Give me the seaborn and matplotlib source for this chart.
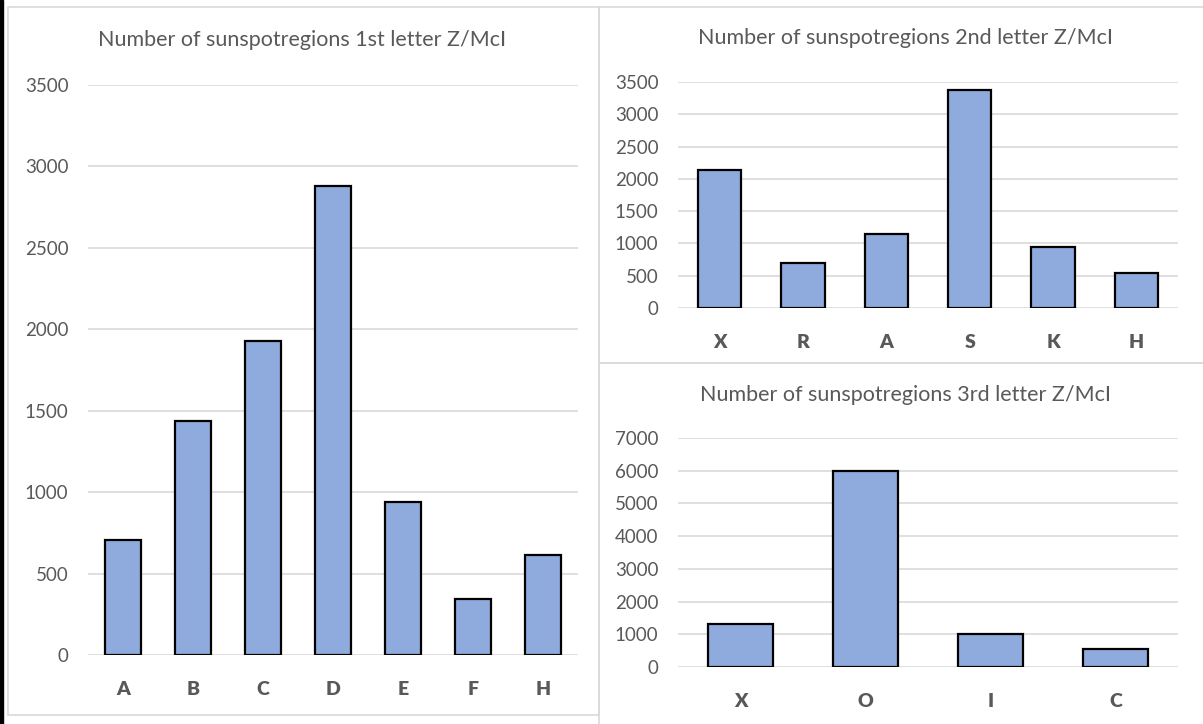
import numpy as np
import seaborn as sns
import matplotlib.pyplot as plt
from matplotlib.patches import Rectangle

# data
first_letters = ['A', 'B', 'C', 'D', 'E', 'F', 'H']
first_counts = [705, 1435, 1930, 2880, 940, 342, 617]

second_letters = ['X', 'R', 'A', 'S', 'K', 'H']
second_counts = [2135, 695, 1140, 3375, 940, 545]

third_letters = ['X', 'O', 'I', 'C']
third_counts = [1310, 5985, 1005, 540]

BAR = '#8faadc'
GRID = '#d9d9d9'
TXT = '#595959'
W, H = 1203, 724

sns.set_theme(style='white')
plt.rcParams['font.family'] = ['Lato', 'DejaVu Sans']

fig = plt.figure(figsize=(W / 100, H / 100), dpi=100)


def px_axes(x0, x1, ytop, ybot):
    return fig.add_axes([x0 / W, (H - ybot) / H, (x1 - x0) / W, (ybot - ytop) / H])


def panel(x0, y0, x1, y1):
    fig.patches.append(Rectangle((x0 / W, (H - y1) / H), (x1 - x0) / W, (y1 - y0) / H,
                                 transform=fig.transFigure, fill=False,
                                 edgecolor=GRID, linewidth=1.2, zorder=0))


def bar_chart(ax, cats, vals, ymax, step, title, tx, ty):
    sns.barplot(x=cats, y=vals, color=BAR, saturation=1, edgecolor='black',
                linewidth=1.6, width=0.52, ax=ax, zorder=3)
    ax.set_ylim(0, ymax)
    ax.set_xlim(-0.5, len(cats) - 0.5)
    ax.set_yticks(np.arange(0, ymax + 1, step))
    ax.grid(axis='y', color=GRID, linewidth=1.2, zorder=0)
    ax.set_axisbelow(True)
    sns.despine(ax=ax, left=True, bottom=True)
    ax.tick_params(axis='y', length=0, pad=14, labelsize=13.5, labelcolor=TXT)
    ax.tick_params(axis='x', length=0, pad=19, labelsize=14, labelcolor=TXT)
    for lab in ax.get_xticklabels():
        lab.set_fontweight('heavy')
    ax.set_facecolor('none')
    fig.text(tx / W, (H - ty) / H, title, ha='center', va='center',
             fontsize=15.5, color=TXT)


# panel frames
panel(8, 7, 599, 715)
panel(599, 7, 1210, 363)
panel(599, 363, 1210, 730)
fig.patches.append(Rectangle((0, 0), 3 / W, 1, transform=fig.transFigure,
                             color='black', zorder=0))

ax1 = px_axes(88, 578, 85, 655)
bar_chart(ax1, first_letters, first_counts, 3500, 500,
          'Number of sunspotregions 1st letter Z/McI', 302, 40)

ax2 = px_axes(678, 1178, 82, 308)
bar_chart(ax2, second_letters, second_counts, 3500, 500,
          'Number of sunspotregions 2nd letter Z/McI', 905, 38)

ax3 = px_axes(678, 1178, 438, 667)
bar_chart(ax3, third_letters, third_counts, 7000, 1000,
          'Number of sunspotregions 3rd letter Z/McI', 905, 395)

fig.savefig('out.png', dpi=100)
